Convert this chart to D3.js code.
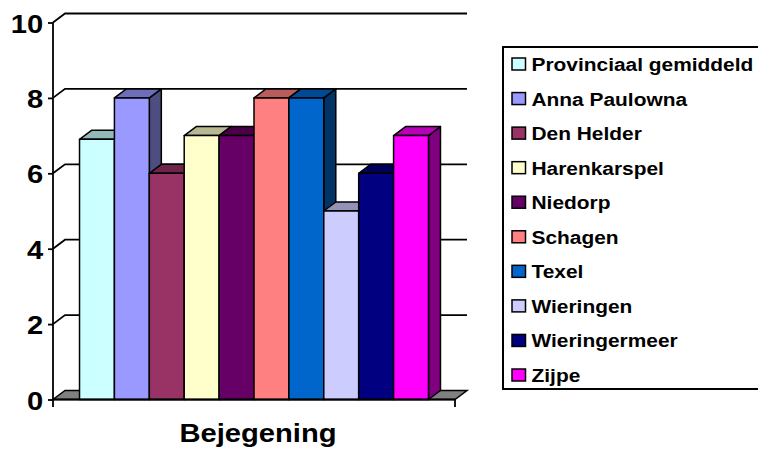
<!DOCTYPE html>
<html>
<head>
<meta charset="utf-8">
<script src="https://cdn.jsdelivr.net/npm/d3@7"></script>
<style>
  html, body { margin: 0; padding: 0; background: #fff; }
  svg { display: block; }
  text { font-family: "Liberation Sans", Arial, sans-serif; font-weight: bold; fill: #000; }
</style>
</head>
<body>
<svg id="chart" width="758" height="450"></svg>
<script>
// Chart data
const categories = ["Bejegening"];
const seriesNames = ["Provinciaal gemiddeld", "Anna Paulowna", "Den Helder", "Harenkarspel",
  "Niedorp", "Schagen", "Texel", "Wieringen", "Wieringermeer", "Zijpe"];
const seriesValues = [6.9, 8, 6, 7, 7, 8, 8, 5, 6, 7];
const seriesColors = ["#CCFFFF", "#9999FF", "#993366", "#FFFFCC", "#660066",
  "#FF8080", "#0066CC", "#CCCCFF", "#000080", "#FF00FF"];
const yTicks = [0, 2, 4, 6, 8, 10];

const svg = d3.select("#chart");
const sx = 1.1;           // horizontal stretch of the lettering
const depthX = 12, depthY = -9;   // 3D depth offset

const x0 = d3.scaleBand().domain(categories).range([53, 455]).paddingInner(0).paddingOuter(0.076);
const x1 = d3.scaleBand().domain(seriesNames).range([0, x0.bandwidth()]);
const y = d3.scaleLinear().domain([0, 10]).range([399.5, 22.5]);

const xLeft = x0.range()[0], xRight = x0.range()[1];

// back-wall gridlines
svg.append("g").selectAll("path")
  .data(yTicks.filter(t => t > 0))
  .join("path")
  .attr("d", t => `M${xLeft},${y(t)} L${xLeft + depthX},${y(t) + depthY} L${xRight + depthX},${y(t) + depthY}`)
  .attr("fill", "none").attr("stroke", "#000").attr("stroke-width", 1.8);

// floor
svg.append("path")
  .attr("d", `M${xLeft},${y(0)} L${xRight},${y(0)} L${xRight + depthX},${y(0) + depthY} L${xLeft + depthX},${y(0) + depthY} Z`)
  .attr("fill", "#808080").attr("stroke", "#000").attr("stroke-width", 1.5);

// 3D bars, drawn left to right so each bar covers its neighbour's side face
const bars = svg.append("g").attr("stroke", "#000").attr("stroke-width", 1.5).attr("stroke-linejoin", "round");
const barData = seriesNames.map((name, i) => ({ name, value: seriesValues[i], color: seriesColors[i], cat: categories[0] }));
barData.forEach(d => {
  const xl = x0(d.cat) + x1(d.name);
  const xr = xl + x1.bandwidth();
  const yt = y(d.value), yb = y(0);
  const c = d3.rgb(d.color);
  const shade = k => d3.rgb(c.r * k, c.g * k, c.b * k).formatHex();
  const g = bars.append("g");
  g.append("path")
    .attr("d", `M${xr},${yt} L${xr + depthX},${yt + depthY} L${xr + depthX},${yb + depthY} L${xr},${yb} Z`)
    .attr("fill", shade(0.5));
  g.append("path")
    .attr("d", `M${xl},${yt} L${xl + depthX},${yt + depthY} L${xr + depthX},${yt + depthY} L${xr},${yt} Z`)
    .attr("fill", shade(0.72));
  g.append("rect")
    .attr("x", xl).attr("y", yt).attr("width", xr - xl).attr("height", yb - yt)
    .attr("fill", d.color);
});

// value axis
const axis = svg.append("g").attr("transform", `translate(${xLeft},0)`)
  .call(d3.axisLeft(y).tickValues(yTicks).tickSize(5).tickPadding(4).tickFormat(d3.format("d")));
axis.select(".domain").remove();
axis.selectAll(".tick line").attr("stroke", "#000").attr("stroke-width", 1.8);
axis.selectAll(".tick text")
  .attr("font-size", 26.5).attr("font-family", null)
  .attr("dy", "0.36em")
  .attr("transform", `scale(${sx},1)`);

svg.append("path")
  .attr("d", `M${xLeft},${y(10)} L${xLeft},${y(0) + 7.5}`)
  .attr("stroke", "#000").attr("stroke-width", 1.8);
svg.append("path")
  .attr("d", `M${xLeft},${y(0)} L${xRight},${y(0)} L${xRight},${y(0) + 7.5}`)
  .attr("fill", "none").attr("stroke", "#000").attr("stroke-width", 1.8);

// category label
svg.append("text")
  .attr("transform", `translate(${x0(categories[0]) + x0.bandwidth() / 2 + 4},442) scale(${sx},1)`)
  .attr("text-anchor", "middle").attr("font-size", 26.5)
  .text(categories[0]);

// legend
const legend = svg.append("g");
legend.append("rect")
  .attr("x", 503).attr("y", 47).attr("width", 300).attr("height", 342)
  .attr("fill", "#fff").attr("stroke", "#000").attr("stroke-width", 2);
const rowY = d3.scalePoint().domain(seriesNames).range([64, 375]);
const rows = legend.selectAll("g.row").data(barData).join("g").attr("class", "row")
  .attr("transform", d => `translate(512,${rowY(d.name)})`);
rows.append("rect")
  .attr("x", 0).attr("y", -6).attr("width", 13.5).attr("height", 12)
  .attr("fill", d => d.color).attr("stroke", "#000").attr("stroke-width", 1.5);
rows.append("text")
  .attr("transform", `translate(19.5,7) scale(${sx},1)`)
  .attr("font-size", 19)
  .text(d => d.name);
</script>
</body>
</html>
